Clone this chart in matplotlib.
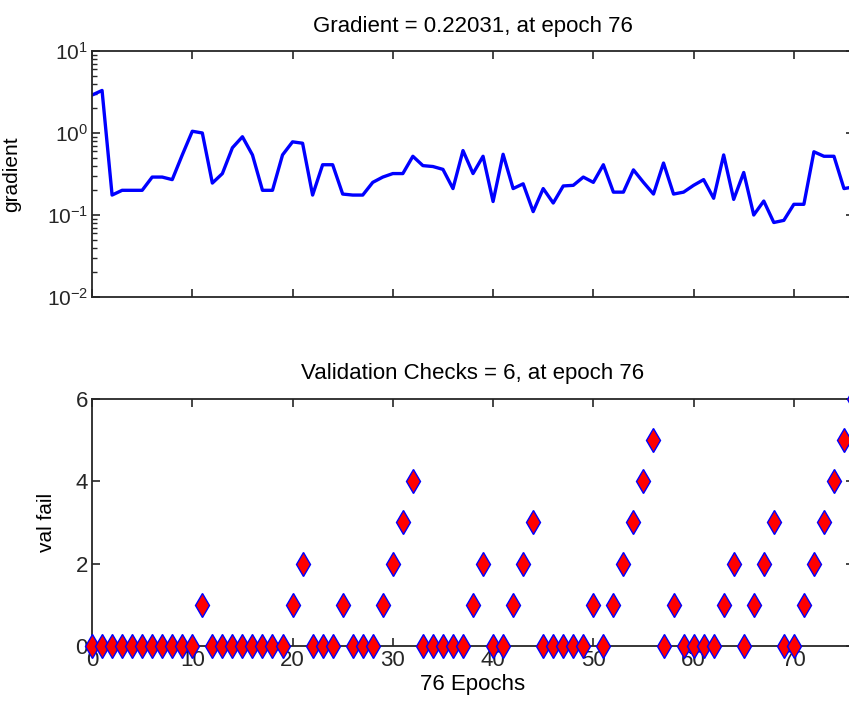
import matplotlib.pyplot as plt
from matplotlib.ticker import LogLocator, NullFormatter

plt.rcParams['font.family'] = ['Liberation Sans', 'DejaVu Sans']
plt.rcParams['mathtext.default'] = 'regular'

# training record, epochs 0..76
epochs = list(range(77))

gradient = [2.9, 3.3, 0.175, 0.20, 0.20, 0.20, 0.29, 0.29, 0.27, 0.54,
            1.05, 1.0, 0.245, 0.32, 0.66, 0.9, 0.54, 0.20, 0.20, 0.54,
            0.78, 0.75, 0.175, 0.41, 0.41, 0.18, 0.175, 0.175, 0.25, 0.29,
            0.32, 0.32, 0.52, 0.40, 0.39, 0.36, 0.21, 0.61, 0.32, 0.52,
            0.146, 0.55, 0.21, 0.24, 0.11, 0.21, 0.14, 0.226, 0.23, 0.29,
            0.25, 0.41, 0.19, 0.19, 0.355, 0.25, 0.18, 0.43, 0.18, 0.19,
            0.23, 0.27, 0.16, 0.54, 0.155, 0.33, 0.10, 0.148, 0.081, 0.086,
            0.135, 0.135, 0.59, 0.52, 0.52, 0.21, 0.22031]

val_fail = [0, 0, 0, 0, 0, 0, 0, 0, 0, 0,
            0, 1, 0, 0, 0, 0, 0, 0, 0, 0,
            1, 2, 0, 0, 0, 1, 0, 0, 0, 1,
            2, 3, 4, 0, 0, 0, 0, 0, 1, 2,
            0, 0, 1, 2, 3, 0, 0, 0, 0, 0,
            1, 0, 1, 2, 3, 4, 5, 0, 1, 0,
            0, 0, 0, 1, 2, 0, 1, 2, 3, 0,
            0, 1, 2, 3, 4, 5, 6]

fig = plt.figure(figsize=(8.49, 7.08), dpi=100)

# axes run past the right edge, like the cropped original
ax1 = fig.add_axes([0.1084, 0.5805, 0.8975, 0.3475])
ax2 = fig.add_axes([0.1084, 0.0876, 0.8975, 0.349])

ax1.semilogy(epochs, gradient, color='#0000ff', linewidth=2.4)
ax1.set_xlim(0, 76)
ax1.set_ylim(1e-2, 1e1)
ax1.set_xticks(range(0, 80, 10))
ax1.set_xticklabels([])
ax1.yaxis.set_major_locator(LogLocator(base=10, numticks=10))
ax1.yaxis.set_minor_locator(LogLocator(base=10, subs=range(2, 10), numticks=20))
ax1.yaxis.set_minor_formatter(NullFormatter())
ax1.set_ylabel('gradient', fontsize=15, labelpad=18)
ax1.set_title('Gradient = 0.22031, at epoch 76', fontsize=16, pad=14)

ax2.plot(epochs, val_fail, linestyle='none', marker='d', markersize=12,
         markerfacecolor='#ff0000', markeredgecolor='#0000ff',
         markeredgewidth=1.0, clip_on=False, zorder=5)
ax2.set_xlim(0, 76)
ax2.set_ylim(0, 6)
ax2.set_xticks(range(0, 80, 10))
ax2.set_yticks([0, 2, 4, 6])
ax2.set_ylabel('val fail', fontsize=15, labelpad=14)
ax2.set_xlabel('76 Epochs', fontsize=16, labelpad=2)
ax2.set_title('Validation Checks = 6, at epoch 76', fontsize=16, pad=14)

for ax in (ax1, ax2):
    ax.tick_params(which='both', direction='in', top=True, right=True,
                   colors='#262626', labelcolor='#262626')
    ax.tick_params(which='major', length=6, width=1.2, labelsize=16, pad=3)
    ax.tick_params(which='minor', length=3.5, width=1.0)
    for s in ax.spines.values():
        s.set_linewidth(1.3)
        s.set_color('#262626')

ax1.tick_params(axis='y', labelsize=15)

fig.savefig('out.png', dpi=100)
